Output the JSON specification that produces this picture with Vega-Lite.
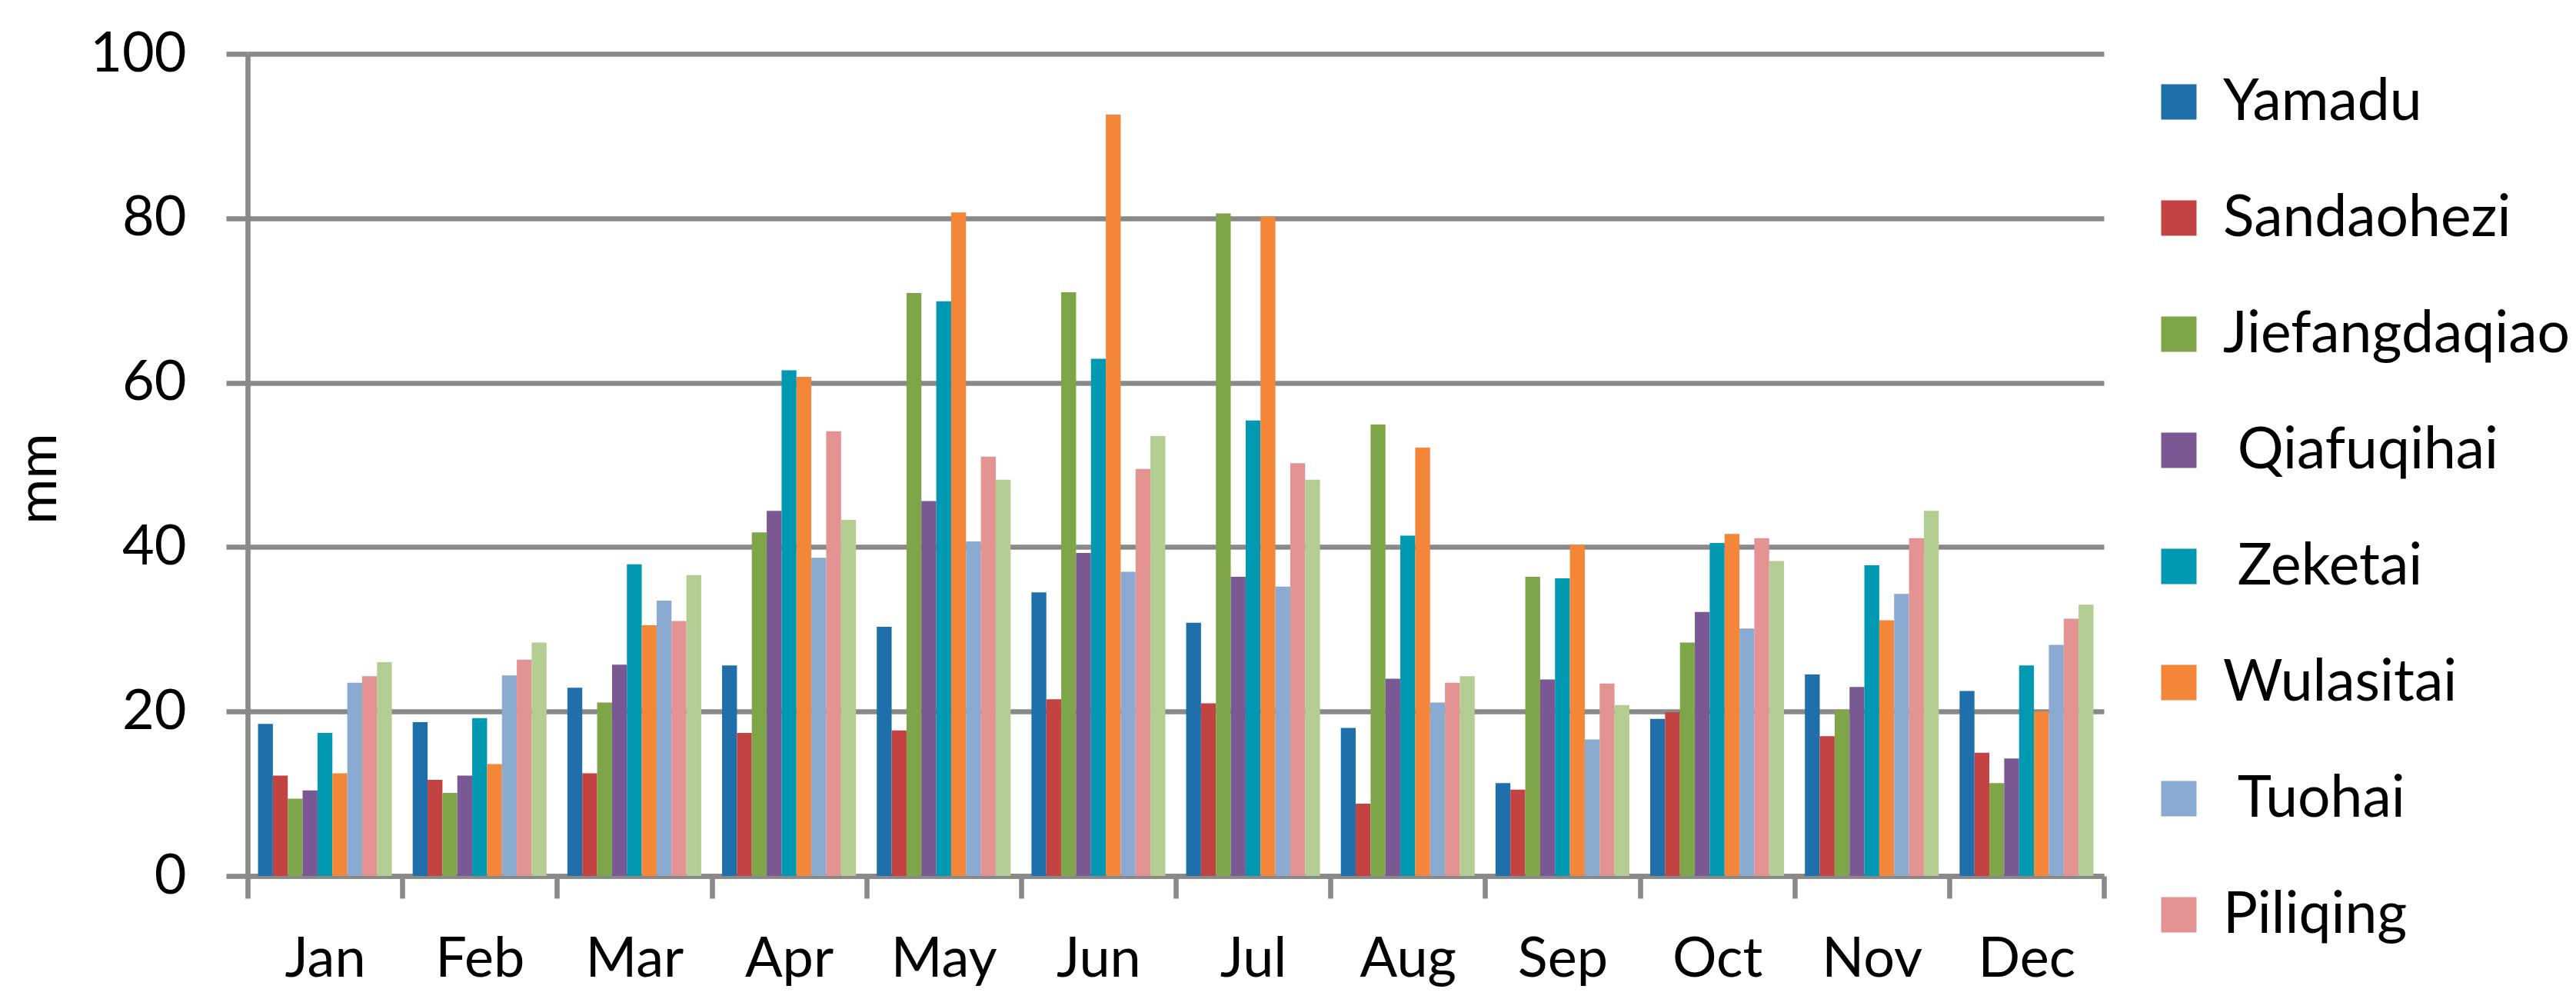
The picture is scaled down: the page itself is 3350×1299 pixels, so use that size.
{
  "$schema": "https://vega.github.io/schema/vega-lite/v6.json",
  "autosize": {"type": "none"},
  "padding": {"left": 322, "top": 70, "right": 614, "bottom": 160},
  "width": 2414,
  "height": 1069,
  "background": "white",
  "config": {
    "view": {"stroke": null},
    "font": "Lato",
    "axis": {"labelFont": "Lato", "titleFont": "Lato", "labelColor": "#000000", "titleColor": "#000000"},
    "legend": {"labelFont": "Lato", "labelColor": "#000000"}
  },
  "data": {
    "values": [
      {"month": "Jan", "station": "Yamadu", "value": 18.5},
      {"month": "Jan", "station": "Sandaohezi", "value": 12.2},
      {"month": "Jan", "station": "Jiefangdaqiao", "value": 9.4},
      {"month": "Jan", "station": "Qiafuqihai", "value": 10.4},
      {"month": "Jan", "station": "Zeketai", "value": 17.4},
      {"month": "Jan", "station": "Wulasitai", "value": 12.5},
      {"month": "Jan", "station": "Tuohai", "value": 23.5},
      {"month": "Jan", "station": "Piliqing", "value": 24.3},
      {"month": "Jan", "station": "Station 9", "value": 26.0},
      {"month": "Feb", "station": "Yamadu", "value": 18.7},
      {"month": "Feb", "station": "Sandaohezi", "value": 11.7},
      {"month": "Feb", "station": "Jiefangdaqiao", "value": 10.1},
      {"month": "Feb", "station": "Qiafuqihai", "value": 12.2},
      {"month": "Feb", "station": "Zeketai", "value": 19.2},
      {"month": "Feb", "station": "Wulasitai", "value": 13.6},
      {"month": "Feb", "station": "Tuohai", "value": 24.4},
      {"month": "Feb", "station": "Piliqing", "value": 26.3},
      {"month": "Feb", "station": "Station 9", "value": 28.4},
      {"month": "Mar", "station": "Yamadu", "value": 22.9},
      {"month": "Mar", "station": "Sandaohezi", "value": 12.5},
      {"month": "Mar", "station": "Jiefangdaqiao", "value": 21.1},
      {"month": "Mar", "station": "Qiafuqihai", "value": 25.7},
      {"month": "Mar", "station": "Zeketai", "value": 37.9},
      {"month": "Mar", "station": "Wulasitai", "value": 30.5},
      {"month": "Mar", "station": "Tuohai", "value": 33.5},
      {"month": "Mar", "station": "Piliqing", "value": 31.0},
      {"month": "Mar", "station": "Station 9", "value": 36.6},
      {"month": "Apr", "station": "Yamadu", "value": 25.6},
      {"month": "Apr", "station": "Sandaohezi", "value": 17.4},
      {"month": "Apr", "station": "Jiefangdaqiao", "value": 41.8},
      {"month": "Apr", "station": "Qiafuqihai", "value": 44.4},
      {"month": "Apr", "station": "Zeketai", "value": 61.5},
      {"month": "Apr", "station": "Wulasitai", "value": 60.7},
      {"month": "Apr", "station": "Tuohai", "value": 38.7},
      {"month": "Apr", "station": "Piliqing", "value": 54.1},
      {"month": "Apr", "station": "Station 9", "value": 43.3},
      {"month": "May", "station": "Yamadu", "value": 30.3},
      {"month": "May", "station": "Sandaohezi", "value": 17.7},
      {"month": "May", "station": "Jiefangdaqiao", "value": 70.9},
      {"month": "May", "station": "Qiafuqihai", "value": 45.6},
      {"month": "May", "station": "Zeketai", "value": 69.9},
      {"month": "May", "station": "Wulasitai", "value": 80.7},
      {"month": "May", "station": "Tuohai", "value": 40.7},
      {"month": "May", "station": "Piliqing", "value": 51.0},
      {"month": "May", "station": "Station 9", "value": 48.2},
      {"month": "Jun", "station": "Yamadu", "value": 34.5},
      {"month": "Jun", "station": "Sandaohezi", "value": 21.5},
      {"month": "Jun", "station": "Jiefangdaqiao", "value": 71.0},
      {"month": "Jun", "station": "Qiafuqihai", "value": 39.3},
      {"month": "Jun", "station": "Zeketai", "value": 62.9},
      {"month": "Jun", "station": "Wulasitai", "value": 92.6},
      {"month": "Jun", "station": "Tuohai", "value": 37.0},
      {"month": "Jun", "station": "Piliqing", "value": 49.5},
      {"month": "Jun", "station": "Station 9", "value": 53.5},
      {"month": "Jul", "station": "Yamadu", "value": 30.8},
      {"month": "Jul", "station": "Sandaohezi", "value": 21.0},
      {"month": "Jul", "station": "Jiefangdaqiao", "value": 80.6},
      {"month": "Jul", "station": "Qiafuqihai", "value": 36.4},
      {"month": "Jul", "station": "Zeketai", "value": 55.4},
      {"month": "Jul", "station": "Wulasitai", "value": 80.2},
      {"month": "Jul", "station": "Tuohai", "value": 35.2},
      {"month": "Jul", "station": "Piliqing", "value": 50.2},
      {"month": "Jul", "station": "Station 9", "value": 48.2},
      {"month": "Aug", "station": "Yamadu", "value": 18.0},
      {"month": "Aug", "station": "Sandaohezi", "value": 8.8},
      {"month": "Aug", "station": "Jiefangdaqiao", "value": 54.9},
      {"month": "Aug", "station": "Qiafuqihai", "value": 24.0},
      {"month": "Aug", "station": "Zeketai", "value": 41.4},
      {"month": "Aug", "station": "Wulasitai", "value": 52.1},
      {"month": "Aug", "station": "Tuohai", "value": 21.1},
      {"month": "Aug", "station": "Piliqing", "value": 23.5},
      {"month": "Aug", "station": "Station 9", "value": 24.3},
      {"month": "Sep", "station": "Yamadu", "value": 11.3},
      {"month": "Sep", "station": "Sandaohezi", "value": 10.5},
      {"month": "Sep", "station": "Jiefangdaqiao", "value": 36.4},
      {"month": "Sep", "station": "Qiafuqihai", "value": 23.9},
      {"month": "Sep", "station": "Zeketai", "value": 36.2},
      {"month": "Sep", "station": "Wulasitai", "value": 40.3},
      {"month": "Sep", "station": "Tuohai", "value": 16.6},
      {"month": "Sep", "station": "Piliqing", "value": 23.4},
      {"month": "Sep", "station": "Station 9", "value": 20.8},
      {"month": "Oct", "station": "Yamadu", "value": 19.1},
      {"month": "Oct", "station": "Sandaohezi", "value": 19.9},
      {"month": "Oct", "station": "Jiefangdaqiao", "value": 28.4},
      {"month": "Oct", "station": "Qiafuqihai", "value": 32.1},
      {"month": "Oct", "station": "Zeketai", "value": 40.5},
      {"month": "Oct", "station": "Wulasitai", "value": 41.6},
      {"month": "Oct", "station": "Tuohai", "value": 30.1},
      {"month": "Oct", "station": "Piliqing", "value": 41.1},
      {"month": "Oct", "station": "Station 9", "value": 38.3},
      {"month": "Nov", "station": "Yamadu", "value": 24.5},
      {"month": "Nov", "station": "Sandaohezi", "value": 17.0},
      {"month": "Nov", "station": "Jiefangdaqiao", "value": 20.2},
      {"month": "Nov", "station": "Qiafuqihai", "value": 23.0},
      {"month": "Nov", "station": "Zeketai", "value": 37.8},
      {"month": "Nov", "station": "Wulasitai", "value": 31.1},
      {"month": "Nov", "station": "Tuohai", "value": 34.3},
      {"month": "Nov", "station": "Piliqing", "value": 41.1},
      {"month": "Nov", "station": "Station 9", "value": 44.4},
      {"month": "Dec", "station": "Yamadu", "value": 22.5},
      {"month": "Dec", "station": "Sandaohezi", "value": 15.0},
      {"month": "Dec", "station": "Jiefangdaqiao", "value": 11.3},
      {"month": "Dec", "station": "Qiafuqihai", "value": 14.3},
      {"month": "Dec", "station": "Zeketai", "value": 25.6},
      {"month": "Dec", "station": "Wulasitai", "value": 20.0},
      {"month": "Dec", "station": "Tuohai", "value": 28.1},
      {"month": "Dec", "station": "Piliqing", "value": 31.3},
      {"month": "Dec", "station": "Station 9", "value": 33.0}
    ]
  },
  "mark": {"type": "bar"},
  "encoding": {
    "x": {
      "field": "month",
      "type": "nominal",
      "sort": ["Jan", "Feb", "Mar", "Apr", "May", "Jun", "Jul", "Aug", "Sep", "Oct", "Nov", "Dec"],
      "scale": {"paddingInner": 0, "paddingOuter": 0},
      "axis": {
        "title": null,
        "labelAngle": 0,
        "tickBand": "extent",
        "domainColor": "#898989",
        "domainWidth": 6.6,
        "tickColor": "#898989",
        "tickWidth": 6.6,
        "tickSize": 29,
        "labelFontSize": 72,
        "labelPadding": 44,
        "grid": false
      }
    },
    "xOffset": {
      "field": "station",
      "type": "nominal",
      "sort": ["Yamadu", "Sandaohezi", "Jiefangdaqiao", "Qiafuqihai", "Zeketai", "Wulasitai", "Tuohai", "Piliqing", "Station 9"],
      "scale": {"paddingInner": 0, "paddingOuter": 0.7}
    },
    "y": {
      "field": "value",
      "type": "quantitative",
      "scale": {"domain": [0, 100], "nice": false},
      "axis": {
        "title": "mm",
        "titleFontSize": 72,
        "titleFontWeight": "normal",
        "titleBaseline": "alphabetic",
        "titleAlign": "center",
        "titleAngle": -90,
        "titleX": -250,
        "titleY": 552,
        "values": [0, 20, 40, 60, 80, 100],
        "grid": true,
        "gridColor": "#898989",
        "gridWidth": 6.6,
        "domainColor": "#898989",
        "domainWidth": 6.6,
        "tickColor": "#898989",
        "tickWidth": 6.6,
        "tickSize": 28,
        "labelFontSize": 72,
        "labelPadding": 52
      }
    },
    "color": {
      "field": "station",
      "type": "nominal",
      "scale": {
        "domain": ["Yamadu", "Sandaohezi", "Jiefangdaqiao", "Qiafuqihai", "Zeketai", "Wulasitai", "Tuohai", "Piliqing", "Station 9"],
        "range": ["#1F70AA", "#C24341", "#7EA648", "#7A5894", "#0099B1", "#F38638", "#8AAAD1", "#E49393", "#B3CD93"]
      },
      "legend": {
        "orient": "none",
        "legendX": 2474,
        "legendY": 25,
        "title": null,
        "padding": 0,
        "values": ["Yamadu", "Sandaohezi", "Jiefangdaqiao", "Qiafuqihai", "Zeketai", "Wulasitai", "Tuohai", "Piliqing"],
        "symbolType": "square",
        "symbolSize": 2116,
        "symbolStrokeWidth": 0,
        "labelFontSize": 75,
        "labelOffset": 20,
        "labelLimit": 800,
        "rowPadding": 75,
        "labelExpr": "test(/^(Qiafuqihai|Zeketai|Tuohai)$/, datum.label) ? '\u200b\u2005' + datum.label : datum.label"
      }
    }
  }
}
